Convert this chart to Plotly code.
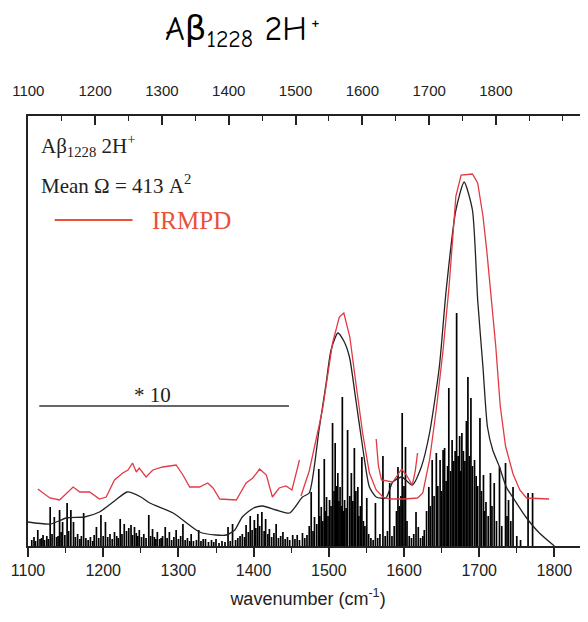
import plotly.graph_objects as go

# ---------------- data ----------------
# calculated (convoluted) spectrum, black
calc_wn = [1100, 1130, 1151, 1175, 1195, 1215, 1232, 1250, 1262, 1293, 1328, 1350, 1364, 1375, 1385,
           1400, 1412, 1430, 1448, 1465, 1474, 1487, 1496.5, 1503, 1512, 1520, 1527.5, 1536, 1545, 1554,
           1563, 1576, 1585, 1597, 1611, 1623, 1634, 1647, 1656, 1669, 1680, 1691, 1698, 1705, 1711,
           1718, 1727, 1736, 1747, 1762, 1780, 1800]
calc_int = [24, 22, 28, 29, 34, 45, 54, 49, 43, 33, 14, 11, 11, 16, 29,
            38, 40, 36, 33, 49, 53, 116, 163, 196, 213, 205, 189, 146, 99, 59,
            49, 48, 64, 69, 61, 79, 113, 179, 255, 336, 364, 336, 246, 179, 119,
            96, 79, 59, 46, 29, 13, 0]

# IRMPD experimental spectrum, red (three scan segments)
irmpd1_wn = [1113, 1129, 1142, 1160, 1169, 1182, 1195, 1204, 1215, 1226, 1233, 1239, 1244, 1248, 1257,
             1266, 1279, 1297, 1306, 1315, 1328, 1339, 1346, 1355, 1377, 1390, 1399, 1408, 1417, 1425,
             1434, 1443, 1451, 1461]
irmpd1_int = [57, 48, 46, 59, 54, 54, 47, 49, 66, 73, 76, 83, 74, 78, 69,
              76, 79, 81, 71, 59, 59, 63, 58, 47, 46, 63, 68, 77, 71, 49,
              58, 60, 56, 86]
irmpd2_wn = [1463, 1474, 1487, 1492, 1505, 1514, 1520, 1528, 1536, 1545, 1554, 1563, 1572, 1581, 1600,
             1618, 1625, 1634, 1643, 1652, 1660, 1669, 1676, 1691, 1698, 1705, 1710, 1716, 1722, 1728,
             1735, 1745, 1754, 1763, 1793]
irmpd2_int = [50, 75, 120, 138, 203, 229, 233, 209, 163, 113, 73, 56, 49, 47, 47,
              48, 53, 86, 137, 196, 260, 350, 371, 372, 363, 330, 296, 250, 200, 140,
              100, 72, 56, 48, 47]
irmpd3_wn = [1563, 1566, 1570, 1585, 1597, 1604, 1611, 1615, 1618]
irmpd3_int = [107, 80, 66, 64, 77, 70, 61, 75, 93]

# computed stick spectrum (frequency, intensity)
stick_wn = [1105, 1108, 1110, 1113, 1116, 1118, 1120, 1122, 1125, 1127, 1129.5, 1132, 1135, 1138, 1140, 1142, 1144,
            1146, 1149, 1152, 1154, 1157,
            1160.5, 1163, 1166, 1169, 1171, 1174, 1177, 1180, 1183, 1186, 1188, 1191, 1194, 1197, 1200,
            1203, 1206, 1209, 1212, 1215, 1218, 1220, 1222.6, 1225, 1228, 1231, 1234, 1237, 1239, 1241.6, 1244,
            1246, 1248, 1251, 1254, 1257, 1260.6, 1263, 1265.6, 1268, 1270, 1272, 1275, 1277, 1279, 1282.5, 1285,
            1288, 1291,
            1294, 1297, 1300, 1303, 1306, 1309, 1312, 1315, 1317, 1320, 1324, 1327, 1330, 1333, 1336, 1340,
            1344, 1347, 1350, 1354, 1358, 1362, 1366, 1369, 1372, 1376, 1379, 1382, 1385, 1388, 1390,
            1393, 1395.5, 1398, 1401, 1403, 1405.6, 1408, 1411, 1414, 1416, 1419, 1421, 1424, 1427, 1430,
            1433, 1436, 1439, 1442, 1445, 1448, 1452, 1455, 1458, 1461, 1465, 1468, 1471,
            1474, 1476.6, 1479, 1481, 1484, 1486.7, 1488, 1490, 1492, 1494, 1496, 1497, 1499, 1501, 1503,
            1505, 1507, 1508.5, 1510, 1512, 1513.5, 1515, 1516.5, 1518, 1520, 1521, 1523, 1525, 1528, 1530,
            1532, 1534, 1536, 1538.6, 1540, 1542, 1544, 1546, 1548, 1550.5, 1553, 1556, 1559, 1562, 1565,
            1568, 1572, 1575, 1578, 1581, 1584, 1587, 1590, 1592, 1594, 1596, 1597.6, 1600, 1602, 1604,
            1607, 1610, 1613, 1616, 1619, 1622, 1625, 1627, 1630, 1633, 1635, 1637.5, 1640, 1643, 1645,
            1648, 1650, 1652, 1654, 1656, 1658, 1659.6, 1662, 1664, 1666, 1668, 1670, 1672, 1674, 1675.5,
            1677, 1679, 1681, 1683, 1685, 1687, 1689, 1691, 1693.8, 1696, 1698, 1701, 1703, 1705.7, 1707,
            1709, 1712, 1715, 1717, 1720, 1723, 1727, 1730, 1735, 1737, 1739, 1742, 1745, 1750, 1755,
            1765, 1771]
stick_int = [6, 9, 5, 16, 7, 8, 11, 6, 10, 7, 39, 12, 29, 9, 10, 36, 14,
             24, 11, 43, 15, 36,
             24, 9, 12, 7, 10, 33, 8, 6, 9, 5, 11, 19, 8, 31, 10,
             24, 9, 12, 7, 14, 10, 8, 27, 12, 22, 15, 18, 21, 11, 19, 13,
             10, 16, 9, 12, 8, 31, 10, 17, 9, 7, 14, 7, 8, 10, 19, 8,
             14, 6,
             9, 16, 7, 10, 22, 6, 8, 5, 12, 5, 6, 16, 5, 7, 7, 4,
             6, 4, 7, 3, 5, 4, 19, 5, 22, 6, 8, 10, 12, 9, 21,
             14, 30, 16, 26, 18, 32, 20, 34, 15, 27, 12, 17, 9, 13, 22,
             8, 10, 14, 7, 9, 6, 11, 7, 11, 6, 13, 8, 11,
             20, 54, 15, 29, 22, 77, 30, 39, 25, 87, 35, 49, 30, 46, 40,
             123, 55, 103, 60, 73, 45, 59, 40, 149, 35, 46, 38, 116, 50, 73,
             45, 98, 55, 59, 30, 40, 89, 25, 20, 48, 12, 8, 6, 43, 8,
             12, 90, 10, 15, 63, 10, 20, 35, 79, 40, 50, 133, 60, 99, 25,
             10, 8, 12, 34, 19, 8, 10, 16, 35, 59, 40, 86, 50, 93, 60,
             86, 55, 96, 98, 65, 80, 158, 75, 106, 85, 95, 233, 90, 110, 75,
             113, 95, 85, 125, 169, 90, 148, 80, 86, 70, 60, 128, 55, 71, 35,
             44, 30, 73, 40, 63, 25, 79, 20, 83, 30, 46, 25, 59, 10, 6,
             53, 53]

# scale-bar annotation ("* 10") and labels
scale_wn = [1115, 1447]
scale_level = 140
top_ticks = [1100, 1200, 1300, 1400, 1500, 1600, 1700, 1800]
bottom_ticks = [1100, 1200, 1300, 1400, 1500, 1600, 1700, 1800]

# ---------------- figure ----------------
sx, sy = [], []
for w, h in zip(stick_wn, stick_int):
    sx += [w, w, None]
    sy += [0, h, None]

RED = "#e23a45"
TITLE_FONT = "Comic Sans MS, Comic Neue, DejaVu Sans"
fig = go.Figure()
fig.add_trace(go.Scatter(x=sx, y=sy, mode="lines", line=dict(color="black", width=1.7),
                         hoverinfo="skip", showlegend=False))
fig.add_trace(go.Scatter(x=calc_wn, y=calc_int, mode="lines",
                         line=dict(color="#222", width=1.3, shape="spline", smoothing=0.6),
                         showlegend=False))
for xs, ys in [(irmpd1_wn, irmpd1_int), (irmpd2_wn, irmpd2_int), (irmpd3_wn, irmpd3_int)]:
    fig.add_trace(go.Scatter(x=xs, y=ys, mode="lines", line=dict(color=RED, width=1.3),
                             showlegend=False, name="IRMPD"))
# invisible trace that activates the top axis
fig.add_trace(go.Scatter(x=[1200], y=[0], xaxis="x2", mode="markers", marker=dict(opacity=0),
                         showlegend=False, hoverinfo="skip"))

# scale bar
fig.add_shape(type="line", x0=scale_wn[0], x1=scale_wn[1], y0=scale_level, y1=scale_level,
              xref="x", yref="y", line=dict(color="#333", width=1.5))
fig.add_annotation(x=1266, y=scale_level + 11, xref="x", yref="y", text="* 10", showarrow=False,
                   font=dict(family="Liberation Serif", size=21, color="#222"))

# legend-like texts
fig.add_annotation(x=1115, y=401, xref="x", yref="y", xanchor="left", showarrow=False,
                   text="Aβ<sub>1228</sub> 2H<sup>+</sup>",
                   font=dict(family="Liberation Serif", size=21, color="#222"))
fig.add_annotation(x=1115, y=362, xref="x", yref="y", xanchor="left", showarrow=False,
                   text="Mean Ω = 413 A<sup>2</sup>",
                   font=dict(family="Liberation Serif", size=21, color="#222"))
fig.add_shape(type="line", x0=1135.5, x1=1239, y0=326, y1=326, xref="x", yref="y",
              line=dict(color="#e8503a", width=2))
fig.add_annotation(x=1262, y=326, xref="x", yref="y", xanchor="left", showarrow=False,
                   text="IRMPD", font=dict(family="Liberation Serif", size=25, color="#e8503a"))

# charge superscript of the page title, drawn as a small separate text
fig.add_annotation(x=0.513, y=1.217, xref="paper", yref="paper", text="+", showarrow=False,
                   xanchor="center", yanchor="middle", borderpad=0,
                   font=dict(family=TITLE_FONT, size=20, color="black"))

# the page body adds an 8px margin, so the figure is 580x614
fig.update_layout(
    width=580, height=614,
    margin=dict(l=20, r=0, t=108, b=76, autoexpand=False),
    paper_bgcolor="white", plot_bgcolor="white",
    title=dict(text="Aβ<sub>1228</sub> 2H", xref="container", yref="container",
               x=0.393, xanchor="center", y=0.967, yanchor="middle", automargin=False,
               font=dict(family=TITLE_FONT, size=34, color="black")),
    xaxis=dict(range=[1100, 1844.7], tickvals=bottom_ticks, ticks="outside", ticklen=9, tickwidth=1.5,
               tickcolor="#222", showline=True, linecolor="#222", linewidth=1.5, showgrid=False,
               zeroline=False, automargin=False,
               tickfont=dict(family="Liberation Sans", size=16, color="#222"),
               minor=dict(dtick=50, tick0=1100, ticks="outside", ticklen=5, tickcolor="#222", tickwidth=1.2),
               title=dict(text="wavenumber (cm<sup>-1</sup>)", standoff=14,
                          font=dict(family="Liberation Sans", size=18, color="#222"))),
    xaxis2=dict(range=[1099.5, 1937.8], overlaying="x", side="top", tickvals=top_ticks, ticks="inside",
                ticklen=9, tickwidth=1.5, tickcolor="#222", showline=True, linecolor="#222", linewidth=1.5,
                showgrid=False, zeroline=False, ticklabelstandoff=12, automargin=False,
                tickfont=dict(family="Liberation Sans", size=15, color="#222"),
                minor=dict(dtick=50, tick0=1100, ticks="inside", ticklen=5, tickcolor="#222", tickwidth=1.2)),
    yaxis=dict(range=[0, 430], showticklabels=False, ticks="", showgrid=False, zeroline=False,
               showline=True, linecolor="#222", linewidth=1.8, automargin=False),
)

fig.write_html("out.html")
